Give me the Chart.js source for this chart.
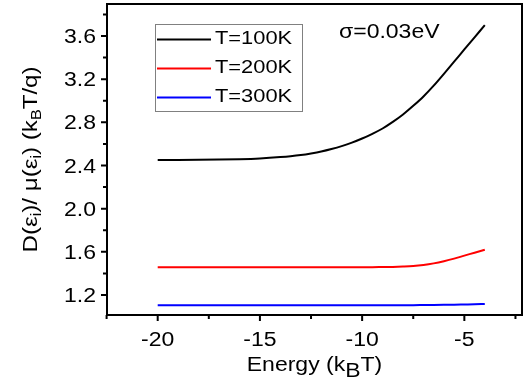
<!DOCTYPE html>
<html><head><meta charset="utf-8">
<script src="https://cdn.jsdelivr.net/npm/chart.js@4"></script>
<style>html,body{margin:0;padding:0;background:#fff}#wrap{width:526px;height:385px}</style>
</head><body><div id="wrap"><canvas id="c" width="526" height="385"></canvas></div>
<script>
// ---- data ----
const energy = [-20,-19,-18,-17,-16,-15,-14,-13.5,-13,-12.5,-12,-11.5,-11,-10.5,-10,-9.5,-9,-8.5,-8,-7.5,-7,-6.5,-6,-5.5,-5,-4.5,-4];
const ratioT100 = [2.452,2.452,2.453,2.455,2.459,2.466,2.478,2.486,2.497,2.512,2.530,2.553,2.580,2.612,2.650,2.694,2.743,2.804,2.873,2.953,3.040,3.140,3.250,3.362,3.476,3.588,3.700];
const ratioT200 = [1.458,1.458,1.458,1.458,1.458,1.458,1.458,1.458,1.458,1.458,1.458,1.458,1.458,1.458,1.458,1.458,1.459,1.460,1.463,1.468,1.478,1.493,1.513,1.537,1.565,1.592,1.620];
const ratioT300 = [1.106,1.106,1.106,1.106,1.106,1.106,1.106,1.106,1.106,1.106,1.106,1.106,1.106,1.106,1.106,1.106,1.106,1.106,1.106,1.106,1.107,1.108,1.109,1.110,1.112,1.114,1.117];
const seriesLabels = ['T=100K','T=200K','T=300K'];
const seriesColors = ['#000000','#ff0000','#0000ff'];
const xTickValues = [-20,-15,-10,-5];
const xMinorValues = [-22.5,-17.5,-12.5,-7.5,-2.5];
const yTickValues = [1.2,1.6,2.0,2.4,2.8,3.2,3.6];
const yMinorValues = [1.4,1.8,2.2,2.6,3.0,3.4,3.8];
const annotationText = 'σ=0.03eV';

const FONT = '"Liberation Sans", Arial, sans-serif';
const SX = 1.15;

function mk(vals){ return energy.map((e,i)=>({x:e,y:vals[i]})); }
const allSeries = [ratioT100, ratioT200, ratioT300];

function sText(ctx, txt, x, y, align, size){
  ctx.save();
  ctx.font = size + 'px ' + FONT;
  ctx.translate(x, y);
  ctx.scale(SX, 1);
  ctx.textAlign = align;
  ctx.textBaseline = 'alphabetic';
  ctx.fillText(txt, 0, 0);
  ctx.restore();
}
function richCentered(ctx, segs, size, subSize, subDy){
  let widths = segs.map(s=>{ ctx.font = (s[1]?subSize:size)+'px '+FONT; return ctx.measureText(s[0]).width*SX; });
  let total = widths.reduce((a,b)=>a+b,0);
  let x = -total/2;
  segs.forEach((s,i)=>{
    ctx.save();
    ctx.font = (s[1]?subSize:size)+'px '+FONT;
    ctx.translate(x, s[1]?subDy:0);
    ctx.scale(SX,1);
    ctx.textAlign='left'; ctx.textBaseline='alphabetic';
    ctx.fillText(s[0],0,0);
    ctx.restore();
    x += widths[i];
  });
}

const decor = {
  id:'decor',
  afterDraw(chart){
    const ctx = chart.ctx, a = chart.chartArea;
    const xs = chart.scales.x, ys = chart.scales.y;
    ctx.save();
    ctx.fillStyle = '#000'; ctx.strokeStyle = '#000';
    ctx.lineWidth = 2;
    ctx.strokeRect(a.left, a.top, a.right-a.left, a.bottom-a.top);
    ctx.beginPath();
    xs.ticks.forEach(t=>{ const p = xs.getPixelForValue(t.value); ctx.moveTo(p, a.bottom); ctx.lineTo(p, a.bottom+6); });
    xMinorValues.forEach(v=>{ const p = xs.getPixelForValue(v); ctx.moveTo(p, a.bottom); ctx.lineTo(p, a.bottom+4); });
    ys.ticks.forEach(t=>{ const p = ys.getPixelForValue(t.value); ctx.moveTo(a.left, p); ctx.lineTo(a.left-6, p); });
    yMinorValues.forEach(v=>{ const p = ys.getPixelForValue(v); ctx.moveTo(a.left, p); ctx.lineTo(a.left-4, p); });
    ctx.stroke();
    xs.ticks.forEach(t=>{ sText(ctx, String(t.value), xs.getPixelForValue(t.value), 346, 'center', 20); });
    ys.ticks.forEach(t=>{ sText(ctx, t.value.toFixed(1), 96, ys.getPixelForValue(t.value)+7, 'right', 20); });
    ctx.save();
    ctx.translate((a.left+a.right)/2, 371);
    richCentered(ctx, [['Energy (k',false],['B',true],['T)',false]], 20, 20, 6);
    ctx.restore();
    ctx.save();
    ctx.translate(37, (a.top+a.bottom)/2);
    ctx.rotate(-Math.PI/2);
    richCentered(ctx, [['D(ε',false],['i',true],[')/ μ(ε',false],['i',true],[') (k',false],['B',true],['T/q)',false]], 21, 14, 4);
    ctx.restore();
    ctx.lineWidth = 1; ctx.strokeStyle = '#808080';
    ctx.strokeRect(155.5, 24.5, 147, 87);
    chart.data.datasets.forEach((ds,i)=>{
      const by = 43.5 + i*29;
      ctx.strokeStyle = ds.borderColor; ctx.lineWidth = 2;
      ctx.beginPath(); ctx.moveTo(157, by-4); ctx.lineTo(211, by-4); ctx.stroke();
      ctx.fillStyle = '#000';
      sText(ctx, ds.label, 215, by, 'left', 19);
    });
    sText(ctx, annotationText, 339, 38, 'left', 20);
    ctx.restore();
  }
};

new Chart(document.getElementById('c'), {
  type:'line',
  data:{ datasets: allSeries.map((s,i)=>({
    label: seriesLabels[i], data: mk(s), borderColor: seriesColors[i], backgroundColor: seriesColors[i],
    borderWidth: 2, pointRadius: 0, fill:false, cubicInterpolationMode:'monotone'
  }))},
  options:{
    responsive:false, animation:false, devicePixelRatio:1,
    layout:{ padding:{ top:4, right:4, left:0, bottom:0 } },
    plugins:{ legend:{display:false}, tooltip:{enabled:false} },
    scales:{
      x:{ type:'linear', min:-22.48, max:-2.18,
          grid:{display:false}, border:{display:false}, ticks:{display:false},
          afterBuildTicks(s){ s.ticks = xTickValues.map(v=>({value:v})); },
          afterFit(s){ s.height = 70; } },
      y:{ type:'linear', min:1.0147, max:3.8966,
          grid:{display:false}, border:{display:false}, ticks:{display:false},
          afterBuildTicks(s){ s.ticks = yTickValues.map(v=>({value:v})); },
          afterFit(s){ s.width = 107; } }
    }
  },
  plugins:[decor]
});
</script></body></html>
